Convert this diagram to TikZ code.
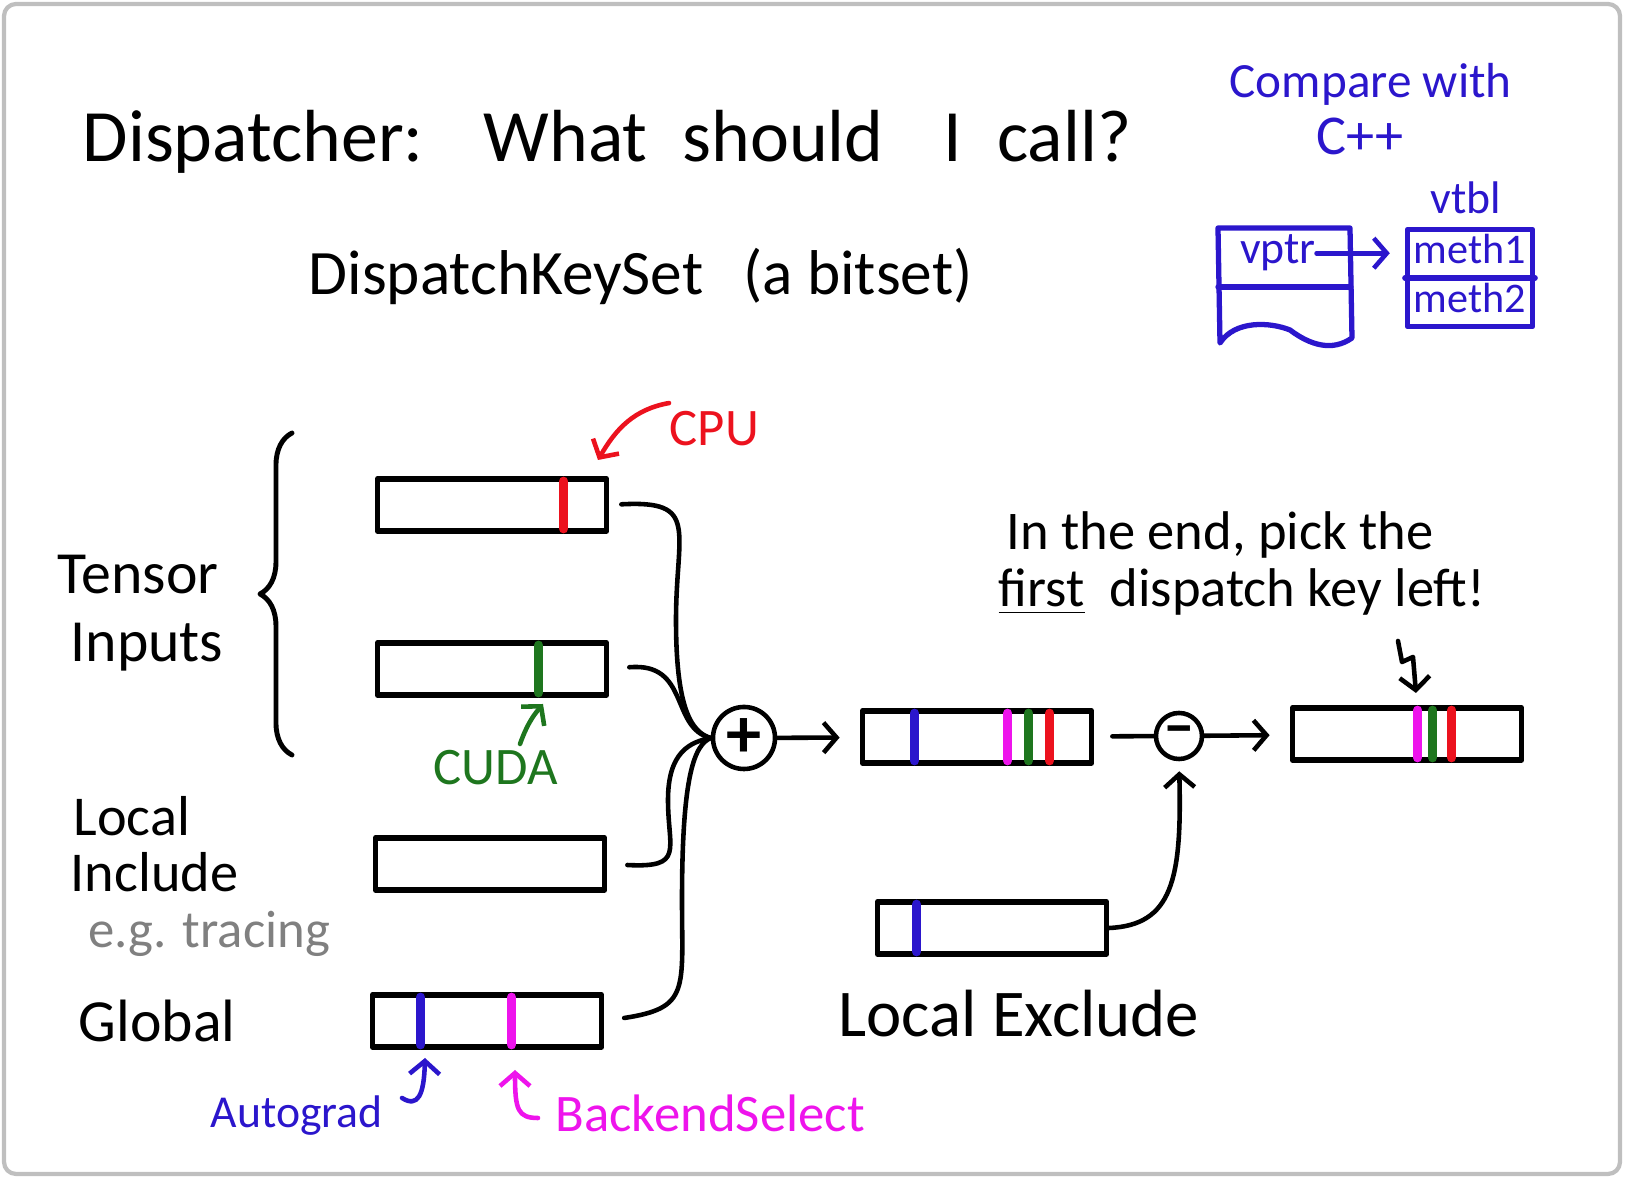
\documentclass[tikz,border=0pt]{standalone}
\usepackage{fontspec}
\setmainfont{Carlito}
\usetikzlibrary{arrows.meta,calc,decorations.pathreplacing}
\definecolor{vblue}{RGB}{43,22,204}
\definecolor{cpured}{RGB}{236,18,30}
\definecolor{cudagreen}{RGB}{30,118,30}
\definecolor{selpink}{RGB}{238,20,236}
\definecolor{tracegray}{RGB}{128,128,128}

\begin{document}
\begin{tikzpicture}[x=0.01cm,y=-0.01cm,line cap=round,line join=round,
  >={Straight Barb[length=0.13cm,width=0.3cm]},
  bitset/.style={draw,line width=1.6pt,minimum width=2.29cm,minimum height=0.52cm,inner sep=0pt},
  wire/.style={line width=1.3pt},
  keybar/.style={line width=2.6pt},
  op node/.style={circle,draw,line width=1.3pt,inner sep=0pt},
  hand/.style={anchor=base west,inner sep=0pt,font=\fontsize{#1}{#1}\selectfont},
  hand/.default=17]

\useasboundingbox (0,0) rectangle (1626,1180);
\draw[black!25,line width=1.2pt,rounded corners=0.12cm] (4,4) rectangle (1620,1174);

% headings
\node[hand=21] (title) at (82,162) {Dispatcher:\hspace{0.6cm}What\hspace{0.35cm}should\hspace{0.6cm}I\hspace{0.35cm}call?};
\node[hand=18] (keyset) at (308,295) {DispatchKeySet\hspace{0.4cm}(a bitset)};

% C++ comparison
\node[hand=14,vblue] (compare) at (1229,98) {Compare with};
\node[hand=16,vblue,anchor=base] (cpp) at (1360,155) {C++};
\node[hand=13,vblue,anchor=base] (vtbltxt) at (1466,214) {vtbl};
\draw[vblue,line width=1.5pt] (1350,228) -- (1218,228) -- (1220,343)
  .. controls (1235,320) and (1270,322) .. (1290,330)
  .. controls (1310,345) and (1332,352) .. (1352,338) -- cycle;
\draw[vblue,line width=1.5pt] (1218,287) -- (1351,287);
\node[hand=13,vblue,anchor=base] (vptr) at (1278,264) {vptr};
\node[draw=vblue,line width=1.5pt,minimum width=1.25cm,minimum height=0.97cm,inner sep=0pt] (vtbl) at (1470,278) {};
\draw[vblue,line width=1.5pt] (vtbl.west) -- (vtbl.east);
\node[hand=12,vblue,anchor=base] (meth1) at (1470,264) {meth1};
\node[hand=12,vblue,anchor=base] (meth2) at (1470,313) {meth2};
\draw[vblue,wire,->,shorten >=0.15cm] (vptr.east) -- (vptr.east -| vtbl.west);

% input key sets
\node[bitset] (ten1) at (492,505) {};
\node[bitset] (ten2) at (492,669) {};
\node[bitset] (incl) at (490,864) {};
\node[bitset] (glob) at (487,1021) {};
\draw[keybar,cpured] ($(ten1.south west)+(189,-5)$) -- ($(ten1.north west)+(189,5)$);
\draw[keybar,cudagreen] ($(ten2.south west)+(164,-5)$) -- ($(ten2.north west)+(164,5)$);
\draw[keybar,vblue] ($(glob.south west)+(51,-5)$) -- ($(glob.north west)+(51,5)$);
\draw[keybar,selpink] ($(glob.south west)+(142,-5)$) -- ($(glob.north west)+(142,5)$);

\node[hand] (tensor) at (57,594) {Tensor};
\node[hand] (inputs) at (70,662) {Inputs};
\draw[line width=1.4pt,decorate,decoration={brace,amplitude=0.32cm}] (292,755) -- (292,433);
\node[hand=16] (local) at (73,836) {Local};
\node[hand=16] (include) at (70,892) {Include};
\node[hand=15,tracegray] (tracing) at (88,948) {e.g. tracing};
\node[hand] (global) at (78,1042) {Global};

\node[hand=15,cpured] (cpu) at (669,446) {CPU};
\coordinate (cputip) at (598,460);
\draw[cpured,wire,->] ([yshift=0.08cm]cpu.north west) to[out=190,in=60] (cputip);
\node[hand=15,cudagreen] (cuda) at (433,785) {CUDA};
\coordinate (cudatip) at (543,704);
\draw[cudagreen,wire,->] (520,744) to[bend left=10] (cudatip);
\node[hand=13,vblue] (autograd) at (210,1128) {Autograd};
\coordinate (agtip) at (425,1058);
\draw[vblue,wire,->] (402,1098) .. controls (418,1108) and (424,1095) .. (agtip);
\node[hand=15,selpink] (select) at (555,1132) {BackendSelect};
\coordinate (seltip) at (515,1070);
\draw[selpink,wire,->] (538,1118) .. controls (518,1118) and (515,1110) .. (seltip);

% union
\node[op node,minimum size=0.62cm] (plus) at (744,738) {\fontsize{20}{20}\selectfont\bfseries +};
\draw[wire,shorten <=0.12cm] (ten1.east) .. controls (700,500) and (676,530) .. (676,620)
  .. controls (676,705) and (690,732) .. (plus.west);
\draw[wire,shorten <=0.2cm] (ten2.east) .. controls (690,662) and (670,728) .. (plus.west);
\draw[wire,shorten <=0.2cm] (incl.east) .. controls (685,868) and (668,850) .. (668,800)
  .. controls (668,752) and (690,742) .. (plus.west);
\draw[wire,shorten <=0.2cm] (glob.east) .. controls (690,1008) and (682,990) .. (682,900)
  .. controls (682,772) and (695,745) .. (plus.west);

\node[bitset] (merged) at (977,737) {};
\foreach \off/\col in {55/vblue,148/selpink,169/cudagreen,190/cpured}
  \draw[keybar,\col] ($(merged.south west)+(\off,-5)$) -- ($(merged.north west)+(\off,5)$);
\draw[wire,->,shorten >=0.2cm] (plus) -- (merged);

% exclusion
\node[op node,minimum size=0.46cm] (minus) at (1179,736) {\fontsize{18}{18}\selectfont\bfseries –};
\node[bitset] (excl) at (992,928) {};
\draw[keybar,vblue] ($(excl.south west)+(42,-5)$) -- ($(excl.north west)+(42,5)$);
\node[hand=19] (exclude) at (838,1037) {Local Exclude};
\draw[wire,shorten <=0.18cm] (merged) -- (minus);
\draw[wire,->,shorten >=0.1cm] (excl.east) .. controls (1172,925) and (1182,880) .. (minus.south);

\node[bitset] (result) at (1407,734) {};
\foreach \off/\col in {128/selpink,143/cudagreen,162/cpured}
  \draw[keybar,\col] ($(result.south west)+(\off,-5)$) -- ($(result.north west)+(\off,5)$);
\draw[wire,->,shorten >=0.2cm] (minus) -- (result);

\node[hand=15.5] (pick1) at (1006,550) {In the end, pick the};
\node[hand=15.5] (pick2) at (998,607) {\underline{first}\hspace{0.25cm}dispatch key left!};
\coordinate (picktip) at (1416,693);
\draw[wire,->] (1398,641) -- (1402,662) -- (1413,657) -- (picktip);

\end{tikzpicture}
\end{document}
